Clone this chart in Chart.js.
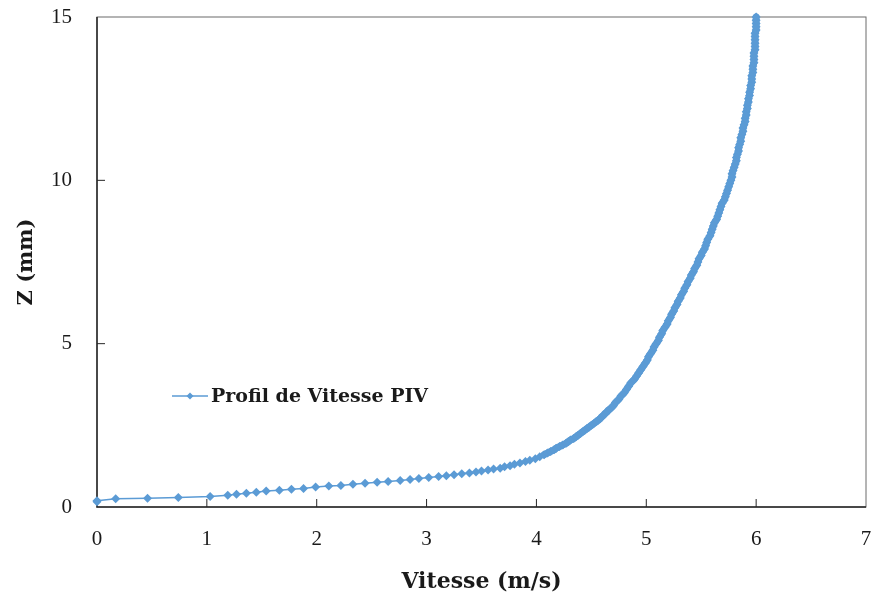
<!DOCTYPE html>
<html>
<head>
<meta charset="utf-8">
<title>Profil de Vitesse PIV</title>
<script src="https://cdn.jsdelivr.net/npm/chart.js@4/dist/chart.umd.min.js"></script>
<style>
    html, body { margin: 0; padding: 0; background: #fff; }
    canvas { display: block; }
</style>
</head>
<body>
<canvas id="profil-grafica" width="876" height="601"></canvas>
<script>
// Zone proche paroi : points bien séparés
const vitesseParoi = [
    0.00, 0.00, 0.17, 0.46, 0.74, 1.03, 1.19, 1.27, 1.36, 1.45,
    1.54, 1.66, 1.77, 1.88, 1.99, 2.11, 2.22, 2.33, 2.44, 2.55,
    2.65, 2.76, 2.85, 2.93, 3.02, 3.11, 3.18, 3.25, 3.32, 3.39,
    3.45, 3.50, 3.56, 3.61, 3.67, 3.71, 3.76, 3.80, 3.85, 3.90,
    3.94, 3.99, 4.03
];
const hauteurParoi = [
    0.16, 0.19, 0.25, 0.27, 0.29, 0.32, 0.36, 0.39, 0.42, 0.45,
    0.49, 0.51, 0.54, 0.57, 0.61, 0.64, 0.66, 0.70, 0.73, 0.76,
    0.78, 0.81, 0.84, 0.87, 0.90, 0.93, 0.96, 0.99, 1.02, 1.04,
    1.07, 1.10, 1.13, 1.16, 1.19, 1.23, 1.26, 1.31, 1.35, 1.39,
    1.43, 1.48, 1.54
];

// Zone de transition
const vitesseTransition = [
    4.07, 4.10, 4.13, 4.16, 4.18, 4.21, 4.24, 4.27, 4.29, 4.31,
    4.34, 4.36, 4.38, 4.40, 4.42, 4.44, 4.46, 4.48, 4.50, 4.52,
    4.54, 4.56, 4.58, 4.59, 4.61, 4.62, 4.64, 4.65
];
const hauteurTransition = [
    1.60, 1.65, 1.70, 1.75, 1.80, 1.85, 1.90, 1.95, 2.00, 2.05,
    2.10, 2.15, 2.20, 2.25, 2.30, 2.35, 2.40, 2.45, 2.50, 2.55,
    2.60, 2.65, 2.70, 2.75, 2.80, 2.85, 2.90, 2.95
];

// Écoulement extérieur : points très serrés
const vitesseCoeur = [
    4.67, 4.70, 4.72, 4.75, 4.77, 4.80, 4.82, 4.84, 4.86, 4.89,
    4.91, 4.93, 4.95, 4.97, 4.99, 5.01, 5.02, 5.04, 5.06, 5.07,
    5.09, 5.11, 5.12, 5.14, 5.15, 5.17, 5.19, 5.20, 5.22, 5.23,
    5.25, 5.26, 5.28, 5.29, 5.31, 5.32, 5.34, 5.35, 5.37, 5.38,
    5.40, 5.41, 5.43, 5.44, 5.46, 5.47, 5.48, 5.50, 5.51, 5.53,
    5.54, 5.55, 5.56, 5.58, 5.59, 5.60, 5.61, 5.62, 5.64, 5.65,
    5.66, 5.67, 5.68, 5.69, 5.71, 5.72, 5.73, 5.74, 5.75, 5.76,
    5.77, 5.78, 5.78, 5.79, 5.80, 5.81, 5.82, 5.82, 5.83, 5.84,
    5.84, 5.85, 5.86, 5.86, 5.87, 5.88, 5.88, 5.89, 5.90, 5.90,
    5.91, 5.91, 5.92, 5.92, 5.93, 5.93, 5.94, 5.94, 5.95, 5.95,
    5.96, 5.96, 5.96, 5.97, 5.97, 5.97, 5.98, 5.98, 5.98, 5.98,
    5.99, 5.99, 5.99, 5.99, 5.99, 5.99, 6.00, 6.00, 6.00, 6.00,
    6.00
];
const hauteurCoeur = [
    3.0, 3.1, 3.2, 3.3, 3.4, 3.5, 3.6, 3.7, 3.8, 3.9,
    4.0, 4.1, 4.2, 4.3, 4.4, 4.5, 4.6, 4.7, 4.8, 4.9,
    5.0, 5.1, 5.2, 5.3, 5.4, 5.5, 5.6, 5.7, 5.8, 5.9,
    6.0, 6.1, 6.2, 6.3, 6.4, 6.5, 6.6, 6.7, 6.8, 6.9,
    7.0, 7.1, 7.2, 7.3, 7.4, 7.5, 7.6, 7.7, 7.8, 7.9,
    8.0, 8.1, 8.2, 8.3, 8.4, 8.5, 8.6, 8.7, 8.8, 8.9,
    9.0, 9.1, 9.2, 9.3, 9.4, 9.5, 9.6, 9.7, 9.8, 9.9,
    10.0, 10.1, 10.2, 10.3, 10.4, 10.5, 10.6, 10.7, 10.8, 10.9,
    11.0, 11.1, 11.2, 11.3, 11.4, 11.5, 11.6, 11.7, 11.8, 11.9,
    12.0, 12.1, 12.2, 12.3, 12.4, 12.5, 12.6, 12.7, 12.8, 12.9,
    13.0, 13.1, 13.2, 13.3, 13.4, 13.5, 13.6, 13.7, 13.8, 13.9,
    14.0, 14.1, 14.2, 14.3, 14.4, 14.5, 14.6, 14.7, 14.8, 14.9,
    15.0
];

const graduationsX = [0, 1, 2, 3, 4, 5, 6, 7];
const graduationsY = [0, 5, 10, 15];

document.addEventListener('DOMContentLoaded', () => {
    const grafica = document.querySelector('#profil-grafica');
    if (!grafica) return;

    const vitesses = [...vitesseParoi, ...vitesseTransition, ...vitesseCoeur];
    const hauteurs = [...hauteurParoi, ...hauteurTransition, ...hauteurCoeur];
    const points = vitesses.map((v, i) => ({ x: v, y: hauteurs[i] }));

    const bleu = '#5B9BD5';
    const encre = '#1a1a1a';
    // au-dessus de cette hauteur les marqueurs se fondent en un trait épais
    const debutDense = hauteurTransition[0];

    // pas de débordement des étiquettes dans la mise en page
    const sansMarge = s => {
        s.paddingTop = 0;
        s.paddingBottom = 0;
        s.paddingLeft = 0;
        s.paddingRight = 0;
    };

    // cadre + graduations tournées vers l'intérieur
    const cadre = {
        id: 'cadre',
        beforeDatasetsDraw(chart) {
            const { ctx, chartArea: a, scales: { x, y } } = chart;
            ctx.save();
            ctx.strokeStyle = '#6b6b6b';
            ctx.lineWidth = 1;
            ctx.strokeRect(a.left, a.top, a.right - a.left, a.bottom - a.top);

            ctx.strokeStyle = '#262626';
            ctx.lineWidth = 1.5;
            ctx.beginPath();
            ctx.moveTo(a.left, a.top);
            ctx.lineTo(a.left, a.bottom);
            ctx.lineTo(a.right, a.bottom);
            ctx.stroke();

            ctx.lineWidth = 1;
            ctx.beginPath();
            graduationsX.slice(1, -1).forEach(v => {
                const px = x.getPixelForValue(v);
                ctx.moveTo(px, a.bottom);
                ctx.lineTo(px, a.bottom - 8);
            });
            graduationsY.slice(1, -1).forEach(v => {
                const py = y.getPixelForValue(v);
                ctx.moveTo(a.left, py);
                ctx.lineTo(a.left + 8, py);
            });
            ctx.stroke();
            ctx.restore();
        }
    };

    // légende placée dans la zone du graphe
    const legende = {
        id: 'legende',
        afterDraw(chart) {
            const { ctx, chartArea: a } = chart;
            const ds = chart.data.datasets[0];
            const x0 = a.left + 75;
            const y0 = a.top + 379;
            ctx.save();
            ctx.strokeStyle = ds.borderColor;
            ctx.lineWidth = ds.borderWidth;
            ctx.beginPath();
            ctx.moveTo(x0, y0);
            ctx.lineTo(x0 + 36, y0);
            ctx.stroke();
            ctx.fillStyle = ds.pointBackgroundColor;
            Chart.helpers.drawPoint(ctx, { pointStyle: 'rectRot', radius: 3.5, rotation: 0, borderWidth: 0 }, x0 + 18, y0);
            ctx.fillStyle = encre;
            ctx.font = 'bold 19px "DejaVu Serif"';
            ctx.textBaseline = 'middle';
            ctx.fillText(ds.label, x0 + 39, y0 + 1);
            ctx.restore();
        }
    };

    new Chart(grafica, {
        type: 'scatter',
        data: {
            datasets: [{
                label: 'Profil de Vitesse PIV',
                data: points,
                showLine: true,
                borderColor: bleu,
                backgroundColor: bleu,
                pointBackgroundColor: bleu,
                borderWidth: 1.5,
                borderCapStyle: 'round',
                borderJoinStyle: 'round',
                segment: {
                    borderWidth: c => (c.p0.parsed.y >= debutDense ? 7 : 1.5)
                },
                pointStyle: 'rectRot',
                pointRadius: 4.5,
                pointBorderWidth: 0,
                tension: 0,
                clip: false
            }]
        },
        options: {
            responsive: false,
            animation: false,
            layout: { padding: { top: 17, right: 10, left: 0, bottom: 0 } },
            scales: {
                x: {
                    type: 'linear',
                    min: 0,
                    max: 7,
                    afterBuildTicks: s => { s.ticks = graduationsX.map(v => ({ value: v })); },
                    afterFit: s => { s.height = 94; sansMarge(s); },
                    grid: { display: false, drawTicks: false },
                    border: { display: false },
                    ticks: {
                        padding: 20,
                        color: encre,
                        font: { family: '"Liberation Serif"', size: 21 }
                    },
                    title: {
                        display: true,
                        text: 'Vitesse (m/s)',
                        color: encre,
                        font: { family: '"DejaVu Serif"', size: 22, weight: 'bold' },
                        padding: { top: 0, bottom: 6 }
                    }
                },
                y: {
                    type: 'linear',
                    min: 0,
                    max: 15,
                    afterBuildTicks: s => { s.ticks = graduationsY.map(v => ({ value: v })); },
                    afterFit: s => { s.width = 97; sansMarge(s); },
                    grid: { display: false, drawTicks: false },
                    border: { display: false },
                    ticks: {
                        padding: 25,
                        color: encre,
                        font: { family: '"Liberation Serif"', size: 21 }
                    },
                    title: {
                        display: true,
                        text: 'Z (mm)',
                        color: encre,
                        font: { family: '"DejaVu Serif"', size: 21, weight: 'bold' },
                        padding: { top: 14, bottom: 0 }
                    }
                }
            },
            plugins: {
                legend: { display: false },
                tooltip: { enabled: false }
            }
        },
        plugins: [cadre, legende]
    });
});
</script>
</body>
</html>
